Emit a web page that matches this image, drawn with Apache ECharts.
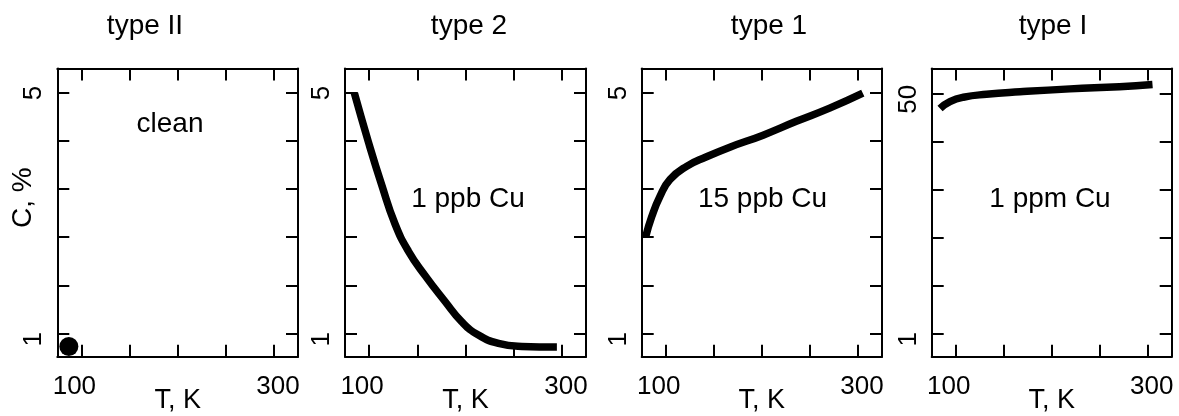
<!DOCTYPE html>
<html>
<head>
<meta charset="utf-8">
<script src="https://cdn.jsdelivr.net/npm/echarts@6/dist/echarts.min.js"></script>
<style>
  html, body { margin: 0; padding: 0; background: #fff; }
  #chart { width: 1179px; height: 416px; }
</style>
</head>
<body>
<div id="chart"></div>
<script>
// Panel titles and the in-plot sample labels
const panelTitles = ['type II', 'type 2', 'type 1', 'type I'];
const sampleLabels = ['clean', '1 ppb Cu', '15 ppb Cu', '1 ppm Cu'];

// Temperature axis (K)
const tempTicks = [100, 150, 200, 250, 300];
const tempLabels = [100, 300];

// Concentration axis ticks (%), panels 1-3 and panel 4
const concTicksLow = [1, 1.8, 2.6, 3.4, 4.2, 5];
const concLabelsLow = [1, 5];
const concTicksHigh = [1, 10.8, 20.6, 30.4, 40.2, 50];
const concLabelsHigh = [1, 50];

// type II (clean): single point
const typeII_T = [87];
const typeII_C = [0.78];

// type 2 (1 ppb Cu)
const type2_T = [84.7, 99.2, 113.1, 126.9, 140.7, 158.1, 178.8, 196.2, 213.4, 234.2, 258.5, 294.8];
const type2_C = [5.0, 4.19, 3.47, 2.82, 2.37, 1.96, 1.53, 1.19, 0.97, 0.83, 0.78, 0.77];

// type 1 (15 ppb Cu)
const type1_T = [79.2, 85.4, 94, 104.4, 121.7, 142.5, 166.7, 201.3, 235.9, 270.5, 305];
const type1_C = [2.61, 2.94, 3.28, 3.56, 3.78, 3.94, 4.1, 4.3, 4.53, 4.75, 5.0];

// type I (1 ppm Cu)
const typeI_T = [83.7, 94, 108, 132, 167, 219, 270.6, 305];
const typeI_C = [46.9, 48.3, 49.2, 49.8, 50.3, 50.9, 51.35, 51.8];

const FONT = '"Liberation Sans", Arial, sans-serif';
const INK = '#000';

const pairs = (xs, ys) => xs.map((x, i) => [x, ys[i]]);

// layout of the four frames
const frames = [
  { left: 57.3, width: 240.7 },
  { left: 345, width: 241 },
  { left: 641.7, width: 240.3 },
  { left: 931.7, width: 240 }
];
const TOP = 68.5, HEIGHT = 288.2;

const grids = frames.map(f => ({
  left: f.left, top: TOP, width: f.width, height: HEIGHT,
  containLabel: false, outerBoundsMode: 'none'
}));

const xAxes = [], yAxes = [];
frames.forEach((f, i) => {
  const base = {
    gridIndex: i, type: 'value', min: 75, max: 325,
    axisLine: { show: true, onZero: false, lineStyle: { color: INK, width: 2 } },
    axisTick: { show: true, inside: true, length: 12, customValues: tempTicks, lineStyle: { color: INK, width: 2 } },
    splitLine: { show: false }
  };
  xAxes.push(Object.assign({}, base, {
    position: 'bottom',
    name: 'T, K', nameLocation: 'middle', nameGap: 30, nameMoveOverlap: false,
    nameTextStyle: { fontFamily: FONT, fontSize: 27, color: INK },
    axisLabel: {
      show: true, customValues: tempLabels, margin: 17,
      fontFamily: FONT, fontSize: 26, color: INK,
      formatter: v => v === 100 ? '{a|100}' : '{b|' + v + '}',
      rich: {
        a: { fontFamily: FONT, fontSize: 26, color: INK, padding: [0, 14, 0, 0] },
        b: { fontFamily: FONT, fontSize: 26, color: INK, padding: [0, 0, 0, 8] }
      }
    }
  }));
  xAxes.push(Object.assign({}, base, { position: 'top', axisLabel: { show: false } }));

  const high = i === 3;
  const ybase = {
    gridIndex: i, type: 'value',
    min: high ? -3.78 : 0.61, max: high ? 55.06 : 5.41,
    axisLine: { show: true, onZero: false, lineStyle: { color: INK, width: 2 } },
    axisTick: { show: true, inside: true, length: 12, customValues: high ? concTicksHigh : concTicksLow, lineStyle: { color: INK, width: 2 } },
    splitLine: { show: false }
  };
  const yLeft = Object.assign({}, ybase, {
    position: 'left',
    axisLabel: {
      show: true, customValues: high ? concLabelsHigh : concLabelsLow,
      rotate: 90, margin: 10,
      fontFamily: FONT, fontSize: 26, color: INK,
      formatter: v => (v === 1 || v === 50) ? '{s|' + v + '}' : '{n|' + v + '}',
      rich: {
        s: { fontFamily: FONT, fontSize: 26, color: INK, padding: [0, 12, 0, 0] },
        n: { fontFamily: FONT, fontSize: 26, color: INK }
      }
    }
  });
  if (i === 0) {
    Object.assign(yLeft, {
      name: 'C, %', nameLocation: 'middle', nameGap: 20, nameMoveOverlap: false,
      nameTextStyle: { fontFamily: FONT, fontSize: 28, color: INK, padding: [0, 0, 0, 30] }
    });
  }
  yAxes.push(yLeft);
  yAxes.push(Object.assign({}, ybase, { position: 'right', axisLabel: { show: false } }));
});

const curveStyle = { color: INK, width: 7.5, cap: 'butt' };
const series = [
  {
    type: 'scatter', xAxisIndex: 0, yAxisIndex: 0,
    data: pairs(typeII_T, typeII_C), symbol: 'circle', symbolSize: 19,
    itemStyle: { color: INK, opacity: 1 }, silent: true
  },
  {
    type: 'line', xAxisIndex: 2, yAxisIndex: 2, data: pairs(type2_T, type2_C),
    smooth: 0.5, showSymbol: false, lineStyle: curveStyle, silent: true
  },
  {
    type: 'line', xAxisIndex: 4, yAxisIndex: 4, data: pairs(type1_T, type1_C),
    smooth: 0.5, showSymbol: false, lineStyle: curveStyle, silent: true
  },
  {
    type: 'line', xAxisIndex: 6, yAxisIndex: 6, data: pairs(typeI_T, typeI_C),
    smooth: 0.5, showSymbol: false, lineStyle: curveStyle, silent: true
  }
];

// headings above each frame and sample labels inside
const titleX = [145, 469, 769, 1053];
const labelPos = [[170, 124], [468, 199], [762.5, 199], [1050, 199]];
const graphic = [];
panelTitles.forEach((t, i) => graphic.push({
  type: 'text', x: titleX[i], y: 26,
  style: { text: t, fill: INK, font: '28px ' + FONT, textAlign: 'center', textVerticalAlign: 'middle' }
}));
sampleLabels.forEach((t, i) => graphic.push({
  type: 'text', x: labelPos[i][0], y: labelPos[i][1],
  style: { text: t, fill: INK, font: '28px ' + FONT, textAlign: 'center', textVerticalAlign: 'middle' }
}));

const chart = echarts.init(document.getElementById('chart'), null, { renderer: 'canvas' });
chart.setOption({
  animation: false,
  backgroundColor: '#fff',
  grid: grids,
  xAxis: xAxes,
  yAxis: yAxes,
  series: series,
  graphic: graphic
});
</script>
</body>
</html>
